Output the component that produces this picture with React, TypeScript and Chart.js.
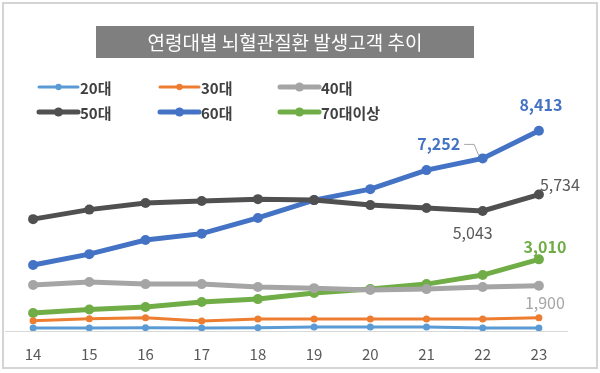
import React, { useEffect, useRef } from "react";
import { Chart, registerables } from "chart.js";

Chart.register(...registerables);

const TITLE = "연령대별 뇌혈관질환 발생고객 추이";
const years = ["14", "15", "16", "17", "18", "19", "20", "21", "22", "23"];
const seriesNames = ["20대", "30대", "40대", "50대", "60대", "70대이상"];
const s20 = [130, 130, 140, 130, 140, 170, 170, 170, 130, 130];
const s30 = [430, 510, 560, 420, 500, 500, 500, 500, 500, 560];
const s40 = [1930, 2060, 1970, 1970, 1850, 1800, 1720, 1760, 1850, 1900];
const s50 = [4700, 5100, 5380, 5460, 5540, 5500, 5290, 5170, 5043, 5734];
const s60 = [2770, 3230, 3820, 4090, 4750, 5500, 5960, 6760, 7252, 8413];
const s70 = [760, 900, 1010, 1220, 1340, 1600, 1760, 1970, 2350, 3010];

const colors = ["#5B9BD5", "#ED7D31", "#A5A5A5", "#505050", "#4472C4", "#70AD47"];
const lineWidths = [3, 3, 5, 5, 5, 5];
const pointRadii = [3.5, 3.5, 5, 5, 5, 5];

// data labels: dataset index, point index, label placement offset, colour, weight
const labelSpecs = [
  { ds: 4, i: 9, dx: 2, dy: -26, color: "#4472C4", bold: true, leader: false },
  { ds: 4, i: 8, dx: -44, dy: -14, color: "#4472C4", bold: true, leader: true },
  { ds: 3, i: 9, dx: 21, dy: -10, color: "#595959", bold: false, leader: false },
  { ds: 3, i: 8, dx: -10, dy: 22, color: "#595959", bold: false, leader: false },
  { ds: 5, i: 9, dx: 6, dy: -12, color: "#70AD47", bold: true, leader: false },
  { ds: 2, i: 9, dx: 6, dy: 17, color: "#A5A5A5", bold: false, leader: false },
];

const KR = '"Noto Sans CJK KR", "Noto Sans", sans-serif';

const decorPlugin = {
  id: "decor",
  beforeDraw(chart: any) {
    const ctx = chart.ctx;
    ctx.save();
    ctx.fillStyle = "#ffffff";
    ctx.fillRect(0, 0, chart.width, chart.height);
    // frame
    ctx.strokeStyle = "#D4D4D4";
    ctx.lineWidth = 2;
    ctx.strokeRect(3, 3, 594, 365);
    // title box
    ctx.fillStyle = "#7F7F7F";
    ctx.fillRect(96, 26, 378, 32);
    ctx.fillStyle = "#ffffff";
    ctx.font = `19px ${KR}`;
    ctx.textAlign = "center";
    ctx.textBaseline = "middle";
    ctx.fillText(TITLE, 285, 43);
    // legend
    const cols = [39, 160, 280];
    const rows = [87, 112];
    chart.data.datasets.forEach((ds: any, k: number) => {
      const x = cols[k % 3];
      const y = rows[Math.floor(k / 3)];
      ctx.strokeStyle = ds.borderColor;
      ctx.lineWidth = ds.borderWidth;
      ctx.lineCap = "round";
      ctx.beginPath();
      ctx.moveTo(x, y);
      ctx.lineTo(x + 39, y);
      ctx.stroke();
      ctx.fillStyle = ds.borderColor;
      ctx.beginPath();
      ctx.arc(x + 19.5, y, ds.pointRadius * 0.9, 0, Math.PI * 2);
      ctx.fill();
      ctx.fillStyle = "#404040";
      ctx.font = `bold 15px ${KR}`;
      ctx.textAlign = "left";
      ctx.textBaseline = "middle";
      ctx.fillText(ds.label, x + 41, y + 1);
    });
    ctx.restore();
  },
  afterDatasetsDraw(chart: any) {
    const ctx = chart.ctx;
    ctx.save();
    labelSpecs.forEach((s) => {
      const pt = chart.getDatasetMeta(s.ds).data[s.i];
      const v = chart.data.datasets[s.ds].data[s.i];
      const txt = Number(v).toLocaleString("en-US");
      const lx = pt.x + s.dx;
      const ly = pt.y + s.dy;
      ctx.font = `${s.bold ? "bold " : ""}16px ${KR}`;
      ctx.fillStyle = s.color;
      ctx.textAlign = "center";
      ctx.textBaseline = "middle";
      ctx.fillText(txt, lx, ly);
      if (s.leader) {
        const w = ctx.measureText(txt).width;
        ctx.strokeStyle = "#A6A6A6";
        ctx.lineWidth = 1;
        ctx.beginPath();
        ctx.moveTo(lx + w / 2 + 4, ly);
        ctx.lineTo(lx + w / 2 + 14, ly);
        ctx.lineTo(pt.x - 4, pt.y - 3);
        ctx.stroke();
      }
    });
    ctx.restore();
  },
};

export default function App() {
  const ref = useRef<HTMLCanvasElement>(null);
  useEffect(() => {
    document.body.style.margin = "0";
    const all = [s20, s30, s40, s50, s60, s70];
    const chart = new Chart(ref.current!, {
      type: "line",
      data: {
        labels: years,
        datasets: all.map((d, k) => ({
          label: seriesNames[k],
          data: d,
          borderColor: colors[k],
          backgroundColor: colors[k],
          borderWidth: lineWidths[k],
          pointRadius: pointRadii[k],
          pointBackgroundColor: colors[k],
          pointBorderWidth: 0,
          tension: 0,
        })),
      },
      options: {
        responsive: false,
        animation: false,
        layout: { padding: { left: 1, right: 33, top: 93, bottom: 0 } },
        plugins: { legend: { display: false }, title: { display: false }, tooltip: { enabled: false } },
        scales: {
          x: {
            offset: true,
            grid: { display: false, drawTicks: false },
            border: { display: true, color: "#D9D9D9", width: 1 },
            ticks: { color: "#595959", font: { family: KR, size: 15 }, padding: 14 },
            afterFit: (s: any) => {
              s.height = 42;
            },
          },
          y: { display: false, min: 0, max: 10000 },
        },
      },
      plugins: [decorPlugin],
    });
    return () => chart.destroy();
  }, []);
  return (
    <div style={{ width: 600, height: 373 }}>
      <canvas ref={ref} width={600} height={373} />
    </div>
  );
}
